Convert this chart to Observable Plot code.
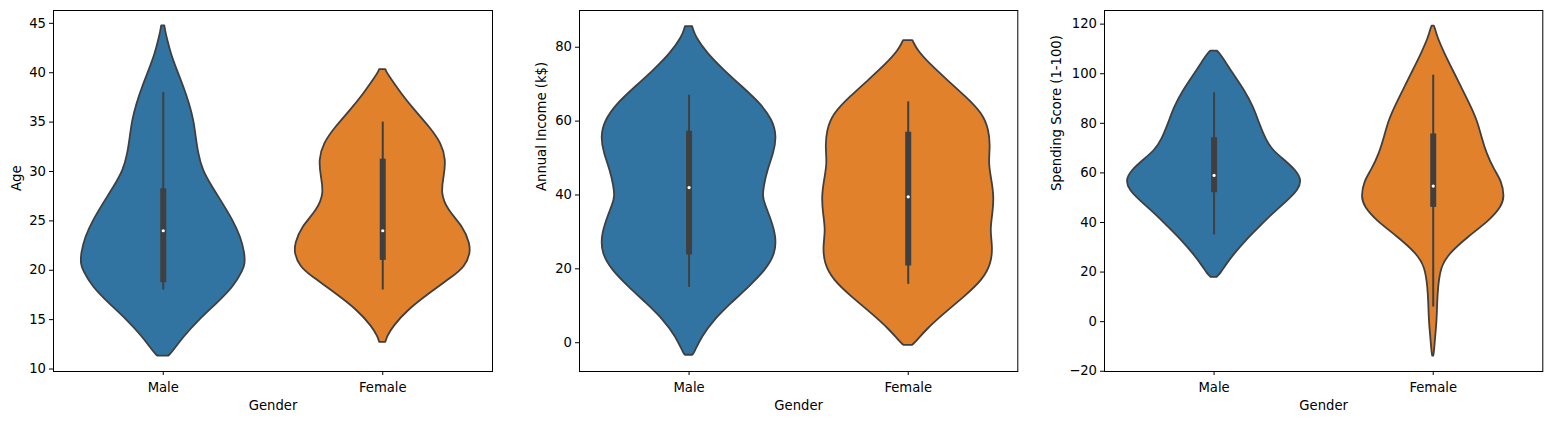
<!DOCTYPE html>
<html><head><meta charset="utf-8">
<script src="https://cdn.jsdelivr.net/npm/d3@7"></script>
<script src="https://cdn.jsdelivr.net/npm/@observablehq/plot@0.6"></script>
<style>
html,body{margin:0;padding:0;background:#fff;}
body{width:1552px;height:422px;overflow:hidden;position:relative;font-family:"DejaVu Sans";}
.panel{position:absolute;top:0;}
</style></head><body>
<div id="p1" class="panel" style="left:0px"></div>
<div id="p2" class="panel" style="left:510px"></div>
<div id="p3" class="panel" style="left:1030px"></div>
<script>
// ---------- data ----------
const categories = ["Male", "Female"];
const fillColors = ["#3274a1", "#e1812c"];
const xLabel = "Gender";
const yLabels = ["Age", "Annual Income (k$)", "Spending Score (1-100)"];

// tick labels
const ageTicks = [10, 15, 20, 25, 30, 35, 40, 45];
const incomeTicks = [0, 20, 40, 60, 80];
const scoreTicks = [-20, 0, 20, 40, 60, 80, 100, 120];

// violin outlines: value positions and half-widths (category units)
const ageMaleY = [44.75, 44.2, 43.28, 41.93, 40.24, 38.55, 36.87, 35.18, 33.49, 31.81, 30.12, 28.43, 26.75, 25.05, 23.36, 21.68, 20.6, 19.99, 18.30, 16.62, 14.93, 13.24, 11.89, 11.4, 11.3];
const ageMaleW = [0.007, 0.011, 0.0205, 0.036, 0.064, 0.094, 0.120, 0.140, 0.150, 0.161, 0.180, 0.224, 0.272, 0.318, 0.354, 0.373, 0.374, 0.365, 0.322, 0.246, 0.163, 0.094, 0.049, 0.030, 0.024];
const ageFemaleY = [40.31, 40.0, 39.56, 37.88, 36.19, 34.50, 32.82, 31.13, 29.44, 27.76, 26.07, 24.38, 22.70, 21.68, 20.33, 19.32, 17.64, 15.95, 14.26, 13.25, 12.85, 12.7];
const ageFemaleW = [0.014, 0.020, 0.032, 0.085, 0.146, 0.214, 0.269, 0.290, 0.280, 0.266, 0.297, 0.368, 0.398, 0.401, 0.376, 0.320, 0.214, 0.115, 0.047, 0.022, 0.016, 0.014];

const incMaleY = [85.6, 84.8, 82.70, 78.21, 73.69, 69.17, 64.68, 60.16, 55.64, 51.15, 46.63, 42.11, 39.5, 37.62, 33.10, 28.58, 24.09, 19.57, 15.06, 10.56, 6.05, 1.53, -2.96, -3.3, -3.4];
const incMaleW = [0.016, 0.020, 0.032, 0.085, 0.161, 0.245, 0.328, 0.383, 0.402, 0.387, 0.359, 0.342, 0.338, 0.346, 0.377, 0.399, 0.396, 0.351, 0.275, 0.192, 0.115, 0.059, 0.024, 0.018, 0.016];
const incFemaleY = [81.8, 81.2, 79.10, 75.50, 70.98, 66.47, 61.97, 57.45, 52.94, 48.45, 43.93, 39.41, 34.92, 30.40, 25.89, 21.39, 16.87, 12.35, 7.86, 3.34, 0.63, -0.5, -0.7];
const incFemaleW = [0.021, 0.026, 0.044, 0.098, 0.181, 0.265, 0.341, 0.370, 0.376, 0.368, 0.382, 0.393, 0.387, 0.375, 0.387, 0.381, 0.341, 0.257, 0.166, 0.082, 0.044, 0.024, 0.020];

const scoMaleY = [109.1, 108.3, 105.34, 99.98, 93.24, 86.50, 79.80, 73.07, 69.03, 64.99, 60.96, 56.92, 52.89, 48.85, 43.49, 38.08, 32.72, 27.35, 21.95, 19.28, 18.3, 17.9];
const scoMaleW = [0.015, 0.025, 0.049, 0.087, 0.140, 0.181, 0.208, 0.239, 0.269, 0.323, 0.375, 0.402, 0.385, 0.338, 0.269, 0.208, 0.147, 0.094, 0.049, 0.030, 0.018, 0.014];
const scoFemaleY = [119.2, 118.2, 114.74, 108.05, 101.31, 94.57, 87.87, 81.13, 74.40, 67.70, 60.96, 56.9, 50.19, 46.15, 40.79, 34.05, 27.35, 21.9, 13.88, 7.18, 0.44, -6.30, -13.0, -13.9];
const scoFemaleW = [0.005, 0.010, 0.020, 0.053, 0.091, 0.129, 0.167, 0.202, 0.222, 0.245, 0.281, 0.312, 0.328, 0.312, 0.260, 0.160, 0.074, 0.036, 0.024, 0.020, 0.018, 0.011, 0.005, 0.002];

// inner box stats: [whiskerLow, q1, median, q3, whiskerHigh]
const ageMaleBox = [18, 18.75, 24, 28.25, 38];
const ageFemaleBox = [18, 21, 24, 31.25, 35];
const incMaleBox = [15, 23.75, 42, 57.25, 67];
const incFemaleBox = [15.8, 20.75, 39.5, 57, 65.2];
const scoMaleBox = [35, 52, 59, 74.2, 92.3];
const scoFemaleBox = [5.9, 46.1, 54.7, 75.7, 99.4];

// ---------- drawing ----------
const FONT = "DejaVu Sans";
const FS = 13.2;
const GRAY = "#3f3f3f";

function violinRows(cat, ys, ws) {
  return ys.map((y, i) => ({cat, y, x1: cat - ws[i], x2: cat + ws[i]}));
}
function boxRow(cat, b) {
  return {cat, lo: b[0], q1: b[1], med: b[2], q3: b[3], hi: b[4]};
}

function panel(el, cfg) {
  const boxes = [boxRow(0, cfg.boxes[0]), boxRow(1, cfg.boxes[1])];
  const chart = Plot.plot({
    width: cfg.width, height: 422,
    marginLeft: cfg.ml, marginRight: cfg.mr, marginTop: 10, marginBottom: 51,
    style: {fontFamily: FONT, fontSize: FS + "px", color: "#000", background: "#fff", overflow: "visible"},
    x: {domain: [-0.5, 1.5]},
    y: {domain: cfg.yDomain},
    marks: [
      Plot.areaX(violinRows(0, cfg.violins[0][0], cfg.violins[0][1]), {y: "y", x1: "x1", x2: "x2", fill: fillColors[0], stroke: GRAY, strokeWidth: 1.8, curve: "basis"}),
      Plot.areaX(violinRows(1, cfg.violins[1][0], cfg.violins[1][1]), {y: "y", x1: "x1", x2: "x2", fill: fillColors[1], stroke: GRAY, strokeWidth: 1.8, curve: "basis"}),
      Plot.ruleX(boxes, {x: "cat", y1: "lo", y2: "hi", stroke: GRAY, strokeWidth: 2}),
      Plot.ruleX(boxes, {x: "cat", y1: "q1", y2: "q3", stroke: GRAY, strokeWidth: 6}),
      Plot.dot(boxes, {x: "cat", y: "med", r: 1.6, fill: "white", stroke: null}),
      Plot.frame({stroke: "#000", strokeWidth: 1}),
      Plot.axisX({ticks: [0, 1], tickFormat: i => categories[i], tickSize: 4, tickPadding: 7, label: null, stroke: "#000"}),
      Plot.axisY({ticks: cfg.yTicks, tickSize: 4, tickPadding: 3.5, label: null, stroke: "#000"}),
      Plot.text([cfg.yLabel], {text: d => d, frameAnchor: "left", dx: cfg.labelDx, rotate: -90, lineAnchor: "bottom", fontSize: FS, fill: "#000"}),
      Plot.text([xLabel], {text: d => d, frameAnchor: "bottom", dy: 38, lineAnchor: "bottom", fontSize: FS, fill: "#000"})
    ]
  });
  document.getElementById(el).appendChild(chart);
}

panel("p1", {width: 510, ml: 53, mr: 18, yDomain: [9.75, 46.3], yTicks: ageTicks, yLabel: yLabels[0], labelDx: -33,
  violins: [[ageMaleY, ageMaleW], [ageFemaleY, ageFemaleW]], boxes: [ageMaleBox, ageFemaleBox]});
panel("p2", {width: 520, ml: 69, mr: 12.7, yDomain: [-7.8, 89.95], yTicks: incomeTicks, yLabel: yLabels[1], labelDx: -33.7,
  violins: [[incMaleY, incMaleW], [incFemaleY, incFemaleW]], boxes: [incMaleBox, incFemaleBox]});
panel("p3", {width: 522, ml: 74, mr: 9.7, yDomain: [-20.1, 125.5], yTicks: scoreTicks, yLabel: yLabels[2], labelDx: -43.5,
  violins: [[scoMaleY, scoMaleW], [scoFemaleY, scoFemaleW]], boxes: [scoMaleBox, scoFemaleBox]});
</script>
</body></html>
